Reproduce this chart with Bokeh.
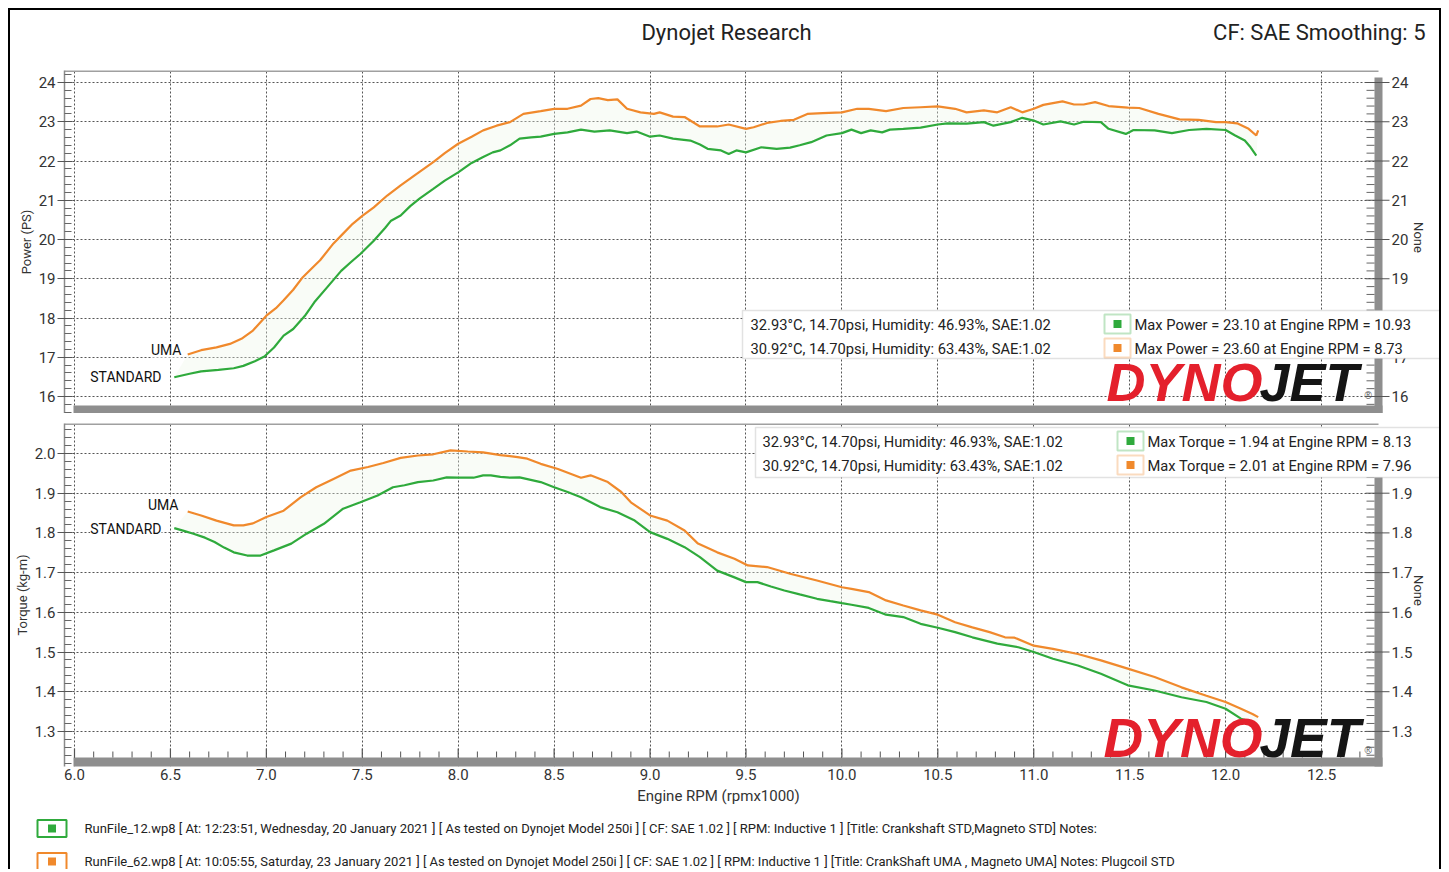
import numpy as np
from bokeh.plotting import figure
from bokeh.models import (Range1d, Label, BoxAnnotation, FixedTicker, PrintfTickFormatter)
from bokeh.layouts import column
from bokeh.embed import file_html
from bokeh.resources import INLINE
from bokeh.core.properties import value

# ---------------- data ----------------
std_power_rpm = [6.52, 6.60, 6.66, 6.75, 6.83, 6.88, 6.94, 6.99, 7.04, 7.09, 7.14, 7.20, 7.25, 7.32,
                 7.39, 7.44, 7.49, 7.56, 7.62, 7.65, 7.70, 7.75, 7.80, 7.87, 7.93, 8.00, 8.07, 8.13,
                 8.18, 8.22, 8.27, 8.32, 8.38, 8.43, 8.50, 8.57, 8.64, 8.71, 8.79, 8.88, 8.93, 9.00,
                 9.05, 9.12, 9.21, 9.26, 9.30, 9.37, 9.41, 9.45, 9.50, 9.58, 9.66, 9.73, 9.78, 9.84,
                 9.92, 10.00, 10.05, 10.10, 10.15, 10.21, 10.25, 10.32, 10.41, 10.50, 10.55, 10.65,
                 10.74, 10.79, 10.88, 10.94, 11.00, 11.05, 11.14, 11.21, 11.26, 11.35, 11.39, 11.48,
                 11.52, 11.63, 11.72, 11.81, 11.90, 12.00, 12.05, 12.10, 12.13, 12.16]
std_power = [16.49, 16.58, 16.64, 16.68, 16.72, 16.78, 16.90, 17.02, 17.25, 17.55, 17.72, 18.05, 18.40, 18.80,
             19.20, 19.42, 19.63, 19.97, 20.30, 20.48, 20.61, 20.85, 21.05, 21.29, 21.50, 21.71, 21.95, 22.10,
             22.22, 22.27, 22.40, 22.57, 22.60, 22.62, 22.69, 22.73, 22.80, 22.75, 22.78, 22.71, 22.75, 22.62,
             22.65, 22.57, 22.52, 22.42, 22.31, 22.27, 22.18, 22.27, 22.22, 22.35, 22.31, 22.34, 22.40, 22.48,
             22.65, 22.71, 22.80, 22.71, 22.78, 22.73, 22.80, 22.82, 22.85, 22.93, 22.96, 22.95,
             22.99, 22.90, 22.99, 23.10, 23.03, 22.93, 23.01, 22.93, 23.00, 22.99, 22.82, 22.69,
             22.79, 22.78, 22.71, 22.79, 22.82, 22.79, 22.65, 22.52, 22.35, 22.14]

uma_power_rpm = [6.59, 6.66, 6.74, 6.81, 6.87, 6.93, 7.00, 7.05, 7.09, 7.14, 7.19, 7.24, 7.28, 7.35,
                 7.40, 7.45, 7.50, 7.56, 7.63, 7.70, 7.78, 7.87, 7.93, 8.00, 8.07, 8.13, 8.20, 8.27,
                 8.34, 8.43, 8.50, 8.57, 8.64, 8.69, 8.73, 8.78, 8.83, 8.88, 8.95, 9.02, 9.05, 9.12,
                 9.18, 9.26, 9.35, 9.41, 9.50, 9.54, 9.61, 9.68, 9.75, 9.82, 9.90, 10.00, 10.08, 10.14,
                 10.23, 10.32, 10.41, 10.50, 10.59, 10.65, 10.74, 10.81, 10.88, 10.94, 11.00, 11.05,
                 11.15, 11.21, 11.26, 11.32, 11.39, 11.49, 11.55, 11.65, 11.76, 11.86, 11.95, 12.00,
                 12.06, 12.12, 12.16, 12.17]
uma_power = [17.07, 17.18, 17.25, 17.34, 17.47, 17.68, 18.06, 18.25, 18.45, 18.72, 19.04, 19.28, 19.47, 19.90,
             20.15, 20.40, 20.60, 20.82, 21.12, 21.38, 21.66, 21.97, 22.20, 22.44, 22.62, 22.78, 22.90, 22.99,
             23.20, 23.27, 23.33, 23.33, 23.41, 23.58, 23.60, 23.55, 23.57, 23.33, 23.24, 23.20, 23.24, 23.13,
             23.12, 22.88, 22.88, 22.93, 22.82, 22.86, 22.97, 23.02, 23.05, 23.20, 23.22, 23.24, 23.33, 23.33,
             23.27, 23.35, 23.37, 23.39, 23.33, 23.24, 23.29, 23.24, 23.37, 23.24, 23.33, 23.43,
             23.52, 23.44, 23.44, 23.50, 23.40, 23.36, 23.35, 23.20, 23.06, 23.05, 22.99, 22.99,
             22.96, 22.82, 22.65, 22.78]

std_torque_rpm = [6.52, 6.57, 6.62, 6.68, 6.73, 6.78, 6.83, 6.90, 6.97, 7.04, 7.13, 7.21, 7.30, 7.40,
                  7.49, 7.58, 7.66, 7.72, 7.79, 7.87, 7.94, 8.00, 8.08, 8.13, 8.17, 8.22, 8.27, 8.32,
                  8.43, 8.50, 8.57, 8.64, 8.74, 8.83, 8.92, 9.00, 9.09, 9.18, 9.26, 9.35, 9.44, 9.50,
                  9.56, 9.63, 9.70, 9.78, 9.87, 9.94, 10.00, 10.05, 10.14, 10.23, 10.32, 10.41, 10.50,
                  10.59, 10.68, 10.81, 10.92, 11.00, 11.10, 11.23, 11.35, 11.49, 11.63, 11.77, 11.90,
                  12.00, 12.08, 12.14, 12.16]
std_torque = [1.812, 1.805, 1.798, 1.788, 1.777, 1.763, 1.751, 1.743, 1.743, 1.756, 1.773, 1.798, 1.823, 1.861,
              1.877, 1.894, 1.915, 1.920, 1.928, 1.932, 1.940, 1.939, 1.939, 1.945, 1.945, 1.941, 1.939, 1.940,
              1.928, 1.915, 1.903, 1.890, 1.865, 1.852, 1.831, 1.802, 1.785, 1.764, 1.739, 1.705, 1.688, 1.676,
              1.676, 1.665, 1.655, 1.645, 1.634, 1.628, 1.623, 1.619, 1.611, 1.594, 1.588, 1.571, 1.561,
              1.550, 1.537, 1.521, 1.512, 1.500, 1.483, 1.466, 1.445, 1.416, 1.403, 1.386, 1.374,
              1.357, 1.332, 1.323, 1.302]

uma_torque_rpm = [6.59, 6.66, 6.74, 6.83, 6.88, 6.93, 7.00, 7.09, 7.18, 7.26, 7.35, 7.44, 7.53, 7.61,
                  7.70, 7.79, 7.87, 7.96, 8.05, 8.13, 8.22, 8.31, 8.36, 8.43, 8.52, 8.64, 8.69, 8.78,
                  8.85, 8.90, 9.00, 9.09, 9.18, 9.25, 9.35, 9.44, 9.51, 9.61, 9.73, 9.87, 10.00, 10.05,
                  10.14, 10.23, 10.32, 10.41, 10.50, 10.59, 10.68, 10.77, 10.85, 10.90, 11.00, 11.10,
                  11.23, 11.35, 11.49, 11.63, 11.77, 11.90, 12.00, 12.08, 12.14, 12.17]
uma_torque = [1.854, 1.844, 1.831, 1.819, 1.819, 1.824, 1.840, 1.856, 1.890, 1.915, 1.936, 1.957, 1.966, 1.976,
              1.989, 1.995, 1.998, 2.008, 2.005, 2.003, 1.996, 1.991, 1.987, 1.974, 1.961, 1.939, 1.945, 1.928,
              1.903, 1.877, 1.844, 1.831, 1.806, 1.773, 1.751, 1.735, 1.718, 1.714, 1.697, 1.680, 1.663, 1.659,
              1.651, 1.630, 1.617, 1.605, 1.594, 1.575, 1.562, 1.550, 1.537, 1.536, 1.516, 1.508,
              1.495, 1.479, 1.458, 1.437, 1.411, 1.390, 1.374, 1.357, 1.344, 1.336]

rpm_ticks = [6.0, 6.5, 7.0, 7.5, 8.0, 8.5, 9.0, 9.5, 10.0, 10.5, 11.0, 11.5, 12.0, 12.5]
power_ticks = [16, 17, 18, 19, 20, 21, 22, 23, 24]
torque_ticks = [1.3, 1.4, 1.5, 1.6, 1.7, 1.8, 1.9, 2.0]

weather = ["32.93°C, 14.70psi, Humidity: 46.93%, SAE:1.02",
           "30.92°C, 14.70psi, Humidity: 63.43%, SAE:1.02"]
power_max = ["Max Power = 23.10 at Engine RPM = 10.93",
             "Max Power = 23.60 at Engine RPM = 8.73"]
torque_max = ["Max Torque = 1.94 at Engine RPM = 8.13",
              "Max Torque = 2.01 at Engine RPM = 7.96"]
run_notes = ["RunFile_12.wp8 [ At: 12:23:51, Wednesday, 20 January 2021 ] [ As tested on Dynojet Model 250i ] "
             "[ CF: SAE 1.02 ] [ RPM: Inductive 1 ] [Title: Crankshaft STD,Magneto STD]  Notes:",
             "RunFile_62.wp8 [ At: 10:05:55, Saturday, 23 January 2021 ] [ As tested on Dynojet Model 250i ] "
             "[ CF: SAE 1.02 ] [ RPM: Inductive 1 ] [Title: CrankShaft UMA , Magneto UMA]  Notes: Plugcoil STD"]
series_names = ["STANDARD", "UMA"]

# ---------------- styling ----------------
W = 1429
FONT = "Roboto"
GREEN = "#2faa3c"
ORANGE = "#f0892c"
BAR = "#8e8e8e"
TXT = "#333333"
TICKC = "#555555"


def rx(px):
    return 6.0 + (px - 74) / 191.85


def ry_top(py):
    return 24 - (py - 82) / 39.25


def ry_bot(py):
    return 2.0 - (py - 453) / 397.0


x_range = Range1d(rx(64), rx(1439))


def minor_list(lo, hi, step, majors):
    vals = np.round(np.arange(lo, hi + step / 2, step), 3)
    return [float(v) for v in vals if not any(abs(v - m) < 1e-6 for m in majors)]


def build_panel(p, ry, y_ticks, yfmt, y_label, minor_step, y_lo_px, y_hi_px, bar_px, none_py):
    p.outline_line_color = None
    p.background_fill_color = "white"
    p.border_fill_color = "white"
    p.xgrid[0].ticker = FixedTicker(ticks=rpm_ticks)
    p.ygrid[0].ticker = FixedTicker(ticks=y_ticks)
    for g in (p.xgrid[0], p.ygrid[0]):
        g.grid_line_color = "#555555"
        g.grid_line_dash = "2 2"
        g.grid_line_width = 1
    lo, hi = ry(y_lo_px), ry(y_hi_px)
    start = round(np.floor(lo / minor_step) * minor_step, 3)
    minors = [m for m in minor_list(start, hi, minor_step, y_ticks) if lo <= m <= hi]
    ya = p.yaxis[0]
    ya.ticker = FixedTicker(ticks=y_ticks, minor_ticks=minors)
    ya.formatter = PrintfTickFormatter(format=yfmt)
    ya.axis_line_color = "#8a8a8a"
    ya.axis_line_width = 1.5
    ya.major_tick_in = 8
    ya.major_tick_out = 7
    ya.minor_tick_in = 7
    ya.minor_tick_out = 0
    ya.major_tick_line_color = TICKC
    ya.minor_tick_line_color = "#666666"
    ya.major_label_standoff = 2
    ya.major_label_text_font = FONT
    ya.major_label_text_font_size = "15px"
    ya.major_label_text_color = TXT
    ya.axis_label = y_label
    ya.axis_label_text_font = FONT
    ya.axis_label_text_font_size = "13px"
    ya.axis_label_text_font_style = "normal"
    ya.axis_label_text_color = TXT
    ya.axis_label_standoff = 2

    # mask to the right of the right-hand bar
    p.quad(left=[rx(1382)], right=[rx(1450)], bottom=[ry(y_lo_px + 5)], top=[ry(y_hi_px - 5)],
           fill_color="white", line_color=None)
    # top frame edge
    p.quad(left=[rx(64)], right=[rx(1378)], bottom=[ry(y_hi_px + 1.5)], top=[ry(y_hi_px - 1)],
           fill_color="#a0a0a0", line_color=None)
    # bottom bar and right bar
    p.quad(left=[rx(73)], right=[rx(1382)], bottom=[ry(y_lo_px + 3)], top=[ry(bar_px)],
           fill_color=BAR, line_color=None)
    p.quad(left=[rx(1374)], right=[rx(1382)], bottom=[ry(y_lo_px + 3)], top=[ry(y_hi_px + 7)],
           fill_color=BAR, line_color=None)
    # right-hand ticks and labels
    r_minors = [m for m in minors if ry(bar_px) <= m <= ry(y_hi_px + 8)]
    p.segment(x0=[rx(1366)] * len(r_minors), x1=[rx(1374)] * len(r_minors), y0=r_minors, y1=r_minors,
              line_color="#666666", line_width=1)
    p.segment(x0=[rx(1365)] * len(y_ticks), x1=[rx(1389)] * len(y_ticks), y0=y_ticks, y1=y_ticks,
              line_color=TICKC, line_width=1)
    p.text(x=[rx(1391)] * len(y_ticks), y=y_ticks, text=[yfmt % t for t in y_ticks],
           text_font=value(FONT), text_font_size="15px", text_color=TXT, text_baseline="middle",
           text_align="left")
    p.text(x=[rx(1418)], y=[ry(none_py)], text=["None"], angle=-np.pi / 2, text_font=value(FONT),
           text_font_size="13px", text_color=TXT, text_baseline="middle", text_align="center")


def add_legend_box(p, ry, box, rows_y, sq_x, text_x, left_x, right_texts):
    p.add_layout(BoxAnnotation(left=rx(box[0]), right=rx(box[1]), top=ry(box[2]), bottom=ry(box[3]),
                               fill_color="white", fill_alpha=1.0, line_color="#a0a0a0", line_width=1.5,
                               level="overlay"))
    cols = [GREEN, ORANGE]
    for i in range(2):
        yc = rows_y[i]
        p.add_layout(Label(x=rx(left_x), y=ry(yc), text=weather[i], text_font=FONT, text_font_size="14.7px",
                           text_color="#222222", text_baseline="middle", level="overlay"))
        p.add_layout(BoxAnnotation(left=rx(sq_x - 13), right=rx(sq_x + 13), top=ry(yc - 10), bottom=ry(yc + 9),
                                   fill_color="white", fill_alpha=1.0, line_color=cols[i], line_width=2,
                                   level="overlay"))
        p.add_layout(BoxAnnotation(left=rx(sq_x - 4), right=rx(sq_x + 4), top=ry(yc - 4.5), bottom=ry(yc + 3.5),
                                   fill_color=cols[i], fill_alpha=1.0, line_color=None, level="overlay"))
        p.add_layout(Label(x=rx(text_x), y=ry(yc), text=right_texts[i], text_font=FONT, text_font_size="14.7px",
                           text_color="#222222", text_baseline="middle", level="overlay"))


def add_logo(p, ry, mid_py, size="54px"):
    p.add_layout(Label(x=rx(1262), y=ry(mid_py), text="DYNO", text_align="right", text_baseline="middle",
                       text_font="Liberation Sans", text_font_style="bold italic", text_font_size=size,
                       text_color="#e4202c"))
    p.add_layout(Label(x=rx(1259), y=ry(mid_py), text="JET", text_align="left", text_baseline="middle",
                       text_font="Liberation Sans", text_font_style="bold italic", text_font_size=size,
                       text_color="#151515"))
    p.add_layout(Label(x=rx(1364), y=ry(mid_py + 13), text="®", text_align="left", text_baseline="middle",
                       text_font="Liberation Sans", text_font_size="10px", text_color="#555555"))


def add_name_labels(p, ry, uma_xy, std_xy):
    for txt, (px, py) in ((series_names[1], uma_xy), (series_names[0], std_xy)):
        p.add_layout(Label(x=rx(px), y=ry(py), text=txt, text_align="right", text_baseline="middle",
                           text_font=FONT, text_font_size="14px", text_color="#111111",
                           background_fill_color="white", background_fill_alpha=1.0))


def between(p, xa, ya, xb, yb):
    p.patch(list(xa) + list(xb)[::-1], list(ya) + list(yb)[::-1], fill_color="#eef6e8", fill_alpha=0.35,
            line_color=None)


# ---------------- header (page coordinates) ----------------
header = figure(width=W, height=50, x_range=Range1d(10, 10 + W), y_range=Range1d(60, 10),
                x_axis_type=None, y_axis_type=None, toolbar_location=None, output_backend="svg",
                min_border=0)
header.frame_align = False
header.grid.visible = False
header.outline_line_color = None
header.text(x=[726], y=[32], text=["Dynojet Research"], text_font=value(FONT), text_font_size="22px",
            text_align="center", text_baseline="middle", text_color="#222222")
header.text(x=[1425], y=[32], text=["CF: SAE Smoothing: 5"], text_font=value(FONT), text_font_size="22px",
            text_align="right", text_baseline="middle", text_color="#222222")

# ---------------- power panel ----------------
top = figure(width=W, height=353, x_range=x_range, y_range=Range1d(ry_top(413), ry_top(70)),
             toolbar_location=None, output_backend="svg",
             min_border_left=54, min_border_right=0, min_border_top=10, min_border_bottom=0)
top.xaxis.visible = False
build_panel(top, ry_top, power_ticks, "%d", "Power (PS)", 0.2, 413, 70, 405, 237)
between(top, std_power_rpm, std_power, uma_power_rpm, uma_power)
top.line(std_power_rpm, std_power, line_color=GREEN, line_width=2.2)
top.line(uma_power_rpm, uma_power, line_color=ORANGE, line_width=2.2)
add_logo(top, ry_top, 381.5)
add_legend_box(top, ry_top, (742, 1440, 310, 358), (324, 348), 1117, 1134, 750, power_max)
add_name_labels(top, ry_top, (181, 349), (161, 376))

# ---------------- torque panel ----------------
bot = figure(width=W, height=373, x_range=x_range, y_range=Range1d(ry_bot(766), ry_bot(423)),
             toolbar_location=None, output_backend="svg",
             min_border_left=54, min_border_right=0, min_border_top=10, min_border_bottom=20)
build_panel(bot, ry_bot, torque_ticks, "%.1f", "Torque (kg-m)", 0.02, 766, 423, 757, 590)
xa = bot.xaxis[0]
xa.ticker = FixedTicker(ticks=rpm_ticks)
xa.formatter = PrintfTickFormatter(format="%.1f")
xa.axis_line_color = None
xa.major_tick_in = 0
xa.major_tick_out = 0
xa.minor_tick_in = 0
xa.minor_tick_out = 0
xa.major_label_standoff = 2
xa.major_label_text_font = FONT
xa.major_label_text_font_size = "15px"
xa.major_label_text_color = TXT
rpm_minor = minor_list(6.0, 12.7, 0.1, rpm_ticks)
bot.segment(x0=rpm_minor, x1=rpm_minor, y0=[ry_bot(757)] * len(rpm_minor), y1=[ry_bot(751)] * len(rpm_minor),
            line_color="#555555", line_width=1)
bot.segment(x0=rpm_ticks, x1=rpm_ticks, y0=[ry_bot(757)] * len(rpm_ticks), y1=[ry_bot(748)] * len(rpm_ticks),
            line_color="#555555", line_width=1.2)
between(bot, std_torque_rpm, std_torque, uma_torque_rpm, uma_torque)
add_logo(bot, ry_bot, 737, "55px")
bot.line(std_torque_rpm, std_torque, line_color=GREEN, line_width=2.2)
bot.line(uma_torque_rpm, uma_torque, line_color=ORANGE, line_width=2.2)
add_legend_box(bot, ry_bot, (755, 1440, 427, 477), (441, 465), 1130, 1147, 762, torque_max)
add_name_labels(bot, ry_bot, (178, 504), (161, 528))

# ---------------- footer (page coordinates) ----------------
footer = figure(width=W, height=83, x_range=Range1d(10, 10 + W), y_range=Range1d(869, 786),
                x_axis_type=None, y_axis_type=None, toolbar_location=None, output_backend="svg",
                min_border=0)
footer.frame_align = False
footer.grid.visible = False
footer.outline_line_color = None
footer.text(x=[718], y=[795], text=["Engine RPM (rpmx1000)"], text_font=value(FONT), text_font_size="15px",
            text_align="center", text_baseline="middle", text_color=TXT)
rows = [828, 861]
footer.rect(x=[51.5, 51.5], y=rows, width=29, height=17, fill_color="white",
            line_color=[GREEN, ORANGE], line_width=2)
footer.rect(x=[51.5, 51.5], y=rows, width=8, height=8, fill_color=[GREEN, ORANGE], line_color=None)
footer.text(x=[84, 84], y=rows, text=run_notes, text_font=value(FONT), text_font_size="13px",
            text_baseline="middle", text_color="#222222")

layout = column(header, top, bot, footer, spacing=0,
                styles={"margin-left": "8px", "margin-top": "8px",
                        "border-top": "2px solid black", "border-left": "2px solid black",
                        "border-right": "2px solid black"})

open("out.html", "w").write(file_html(layout, INLINE))
